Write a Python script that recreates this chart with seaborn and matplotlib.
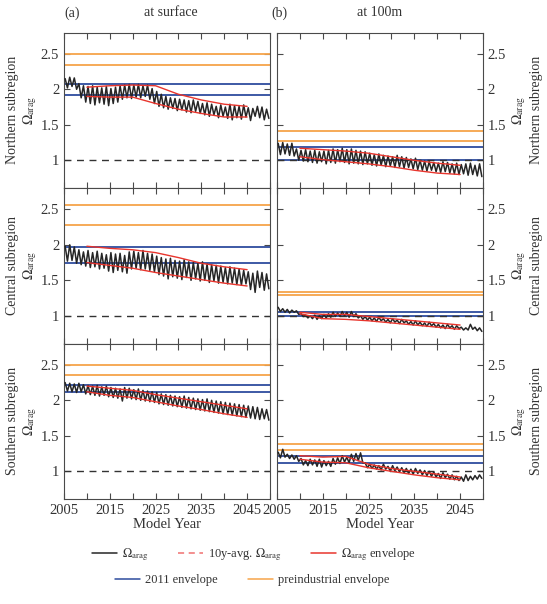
import numpy as np
import pandas as pd
import matplotlib
matplotlib.use("Agg")
import matplotlib.pyplot as plt
from matplotlib.lines import Line2D
from matplotlib.ticker import MultipleLocator, FixedLocator
import seaborn as sns

sns.set_style("ticks")
plt.rcParams["font.family"] = ["Liberation Serif", "DejaVu Serif"]
plt.rcParams["mathtext.fontset"] = "stix"

# ── Data ─────────────────────────────────────────────────────
years = np.arange(2005, 2050)
env_years = [2010, 2015, 2020, 2025, 2030, 2035, 2040, 2045]
regions = ["Northern", "Central", "Southern"]
depths = ["at surface", "at 100m"]

# annual seasonal highs / lows of Omega_arag
n_surf_hi = [2.15, 2.17, 2.16, 2.08, 2.05, 2.04, 2.05, 2.03, 2.02, 2.04,
             2.01, 2.03, 2.05, 2.06, 2.07, 2.06, 2.07, 2.05, 2.06, 2.01,
             1.97, 1.93, 1.90, 1.88, 1.87, 1.86, 1.85, 1.84, 1.85, 1.83,
             1.80, 1.81, 1.79, 1.76, 1.78, 1.75, 1.79, 1.77, 1.76, 1.78,
             1.74, 1.73, 1.76, 1.75, 1.72]
n_surf_lo = [2.02, 2.04, 2.00, 1.88, 1.82, 1.80, 1.78, 1.81, 1.79, 1.77,
             1.80, 1.82, 1.86, 1.88, 1.87, 1.89, 1.88, 1.90, 1.86, 1.80,
             1.76, 1.74, 1.72, 1.73, 1.70, 1.71, 1.68, 1.67, 1.69, 1.66,
             1.64, 1.62, 1.64, 1.60, 1.62, 1.59, 1.57, 1.60, 1.58, 1.61,
             1.56, 1.62, 1.60, 1.57, 1.59]
n_100_hi = [1.24, 1.25, 1.23, 1.24, 1.16, 1.14, 1.15, 1.13, 1.14, 1.12,
            1.13, 1.14, 1.16, 1.15, 1.17, 1.15, 1.16, 1.14, 1.13, 1.12,
            1.10, 1.08, 1.09, 1.07, 1.06, 1.05, 1.07, 1.05, 1.04, 1.02,
            1.03, 1.00, 0.99, 0.98, 0.97, 0.96, 0.98, 0.97, 0.95, 0.96,
            0.94, 0.95, 0.96, 0.93, 0.95]
n_100_lo = [1.08, 1.09, 1.07, 1.06, 1.00, 0.99, 0.98, 0.97, 0.96, 0.98,
            0.95, 0.97, 0.96, 0.98, 0.97, 0.95, 0.96, 0.95, 0.94, 0.95,
            0.93, 0.92, 0.93, 0.91, 0.92, 0.90, 0.91, 0.89, 0.90, 0.88,
            0.87, 0.86, 0.85, 0.86, 0.84, 0.83, 0.84, 0.82, 0.81, 0.80,
            0.81, 0.79, 0.80, 0.78, 0.77]
c_surf_hi = [1.98, 2.00, 1.97, 1.93, 1.90, 1.92, 1.89, 1.91, 1.88, 1.86,
             1.89, 1.87, 1.88, 1.85, 1.90, 1.91, 1.89, 1.92, 1.88, 1.87,
             1.84, 1.82, 1.80, 1.81, 1.78, 1.77, 1.79, 1.76, 1.75, 1.74,
             1.76, 1.73, 1.72, 1.71, 1.70, 1.68, 1.69, 1.67, 1.66, 1.64,
             1.62, 1.60, 1.63, 1.61, 1.59]
c_surf_lo = [1.77, 1.78, 1.74, 1.72, 1.70, 1.68, 1.69, 1.66, 1.67, 1.63,
             1.61, 1.64, 1.62, 1.60, 1.66, 1.67, 1.65, 1.66, 1.64, 1.62,
             1.58, 1.56, 1.52, 1.55, 1.53, 1.51, 1.54, 1.50, 1.52, 1.49,
             1.50, 1.47, 1.49, 1.46, 1.47, 1.45, 1.46, 1.44, 1.43, 1.45,
             1.37, 1.33, 1.40, 1.36, 1.38]
c_100_hi = [1.12, 1.10, 1.09, 1.08, 1.07, 1.03, 1.01, 1.00, 1.01, 1.00,
            1.02, 1.03, 1.05, 1.04, 1.06, 1.05, 1.06, 1.03, 1.00, 0.99,
            0.98, 0.97, 0.98, 0.96, 0.95, 0.96, 0.94, 0.95, 0.93, 0.92,
            0.93, 0.91, 0.90, 0.91, 0.89, 0.88, 0.87, 0.88, 0.86, 0.86,
            0.84, 0.83, 0.88, 0.84, 0.83]
c_100_lo = [1.06, 1.05, 1.04, 1.05, 1.02, 0.99, 0.97, 0.96, 0.95, 0.96,
            0.97, 0.98, 0.99, 0.99, 1.00, 0.98, 0.99, 0.97, 0.95, 0.94,
            0.93, 0.92, 0.93, 0.91, 0.90, 0.91, 0.89, 0.90, 0.88, 0.87,
            0.87, 0.86, 0.85, 0.86, 0.84, 0.83, 0.82, 0.83, 0.81, 0.82,
            0.80, 0.80, 0.81, 0.79, 0.78]
s_surf_hi = [2.25, 2.24, 2.23, 2.24, 2.22, 2.21, 2.20, 2.21, 2.19, 2.20,
             2.18, 2.17, 2.16, 2.18, 2.17, 2.15, 2.16, 2.14, 2.13, 2.12,
             2.11, 2.09, 2.08, 2.07, 2.06, 2.05, 2.06, 2.04, 2.03, 2.02,
             2.01, 2.02, 2.00, 1.99, 1.98, 1.97, 1.96, 1.95, 1.94, 1.93,
             1.92, 1.91, 1.90, 1.88, 1.87]
s_surf_lo = [2.13, 2.12, 2.11, 2.12, 2.09, 2.08, 2.07, 2.06, 2.07, 2.05,
             2.04, 2.03, 1.99, 2.03, 2.02, 2.01, 2.00, 1.99, 1.98, 1.97,
             1.95, 1.94, 1.93, 1.92, 1.91, 1.90, 1.89, 1.88, 1.87, 1.86,
             1.85, 1.84, 1.83, 1.82, 1.81, 1.80, 1.79, 1.78, 1.77, 1.76,
             1.75, 1.74, 1.73, 1.74, 1.72]
s_100_hi = [1.27, 1.31, 1.24, 1.23, 1.22, 1.18, 1.15, 1.17, 1.16, 1.17,
            1.15, 1.14, 1.18, 1.19, 1.22, 1.20, 1.24, 1.25, 1.26, 1.12,
            1.10, 1.09, 1.08, 1.10, 1.07, 1.08, 1.06, 1.05, 1.04, 1.03,
            1.04, 1.02, 1.01, 1.00, 0.99, 0.97, 0.98, 0.96, 0.95, 0.93,
            0.92, 0.95, 0.93, 0.94, 0.95]
s_100_lo = [1.19, 1.20, 1.18, 1.17, 1.14, 1.09, 1.08, 1.09, 1.07, 1.06,
            1.08, 1.07, 1.10, 1.11, 1.13, 1.12, 1.14, 1.15, 1.12, 1.05,
            1.04, 1.03, 1.02, 1.03, 1.00, 1.01, 0.99, 0.98, 0.97, 0.96,
            0.97, 0.95, 0.94, 0.93, 0.92, 0.90, 0.91, 0.89, 0.88, 0.87,
            0.86, 0.87, 0.88, 0.89, 0.90]

# envelope of the 10y windows (upper / lower)
n_surf_env_up = [2.03, 2.05, 2.06, 2.05, 1.93, 1.85, 1.79, 1.76]
n_surf_env_lo = [1.90, 1.89, 1.89, 1.80, 1.72, 1.66, 1.61, 1.61]
n_100_env_up = [1.17, 1.15, 1.13, 1.10, 1.05, 1.00, 0.96, 0.93]
n_100_env_lo = [1.05, 1.01, 0.98, 0.95, 0.91, 0.86, 0.82, 0.80]
c_surf_env_up = [1.98, 1.95, 1.93, 1.89, 1.82, 1.74, 1.69, 1.65]
c_surf_env_lo = [1.75, 1.71, 1.67, 1.61, 1.56, 1.51, 1.46, 1.42]
c_100_env_up = [1.05, 1.02, 1.02, 0.99, 0.96, 0.93, 0.90, 0.87]
c_100_env_lo = [1.03, 0.96, 0.95, 0.93, 0.90, 0.87, 0.84, 0.81]
s_surf_env_up = [2.20, 2.17, 2.14, 2.08, 2.03, 1.98, 1.93, 1.88]
s_surf_env_lo = [2.12, 2.07, 2.04, 1.98, 1.92, 1.87, 1.81, 1.76]
s_100_env_up = [1.22, 1.20, 1.21, 1.10, 1.04, 1.00, 0.96, 0.92]
s_100_env_lo = [1.17, 1.13, 1.12, 1.05, 1.00, 0.95, 0.91, 0.88]

# 2011 and preindustrial envelopes (horizontal lines)
n_surf_2011 = [2.075, 1.915]
n_surf_pre = [2.50, 2.34]
n_100_2011 = [1.19, 1.005]
n_100_pre = [1.41, 1.27]
c_surf_2011 = [1.975, 1.745]
c_surf_pre = [2.555, 2.28]
c_100_2011 = [1.06, 1.0]
c_100_pre = [1.34, 1.29]
s_surf_2011 = [2.22, 2.11]
s_surf_pre = [2.50, 2.36]
s_100_2011 = [1.21, 1.11]
s_100_pre = [1.38, 1.30]

panels = [
    [(n_surf_hi, n_surf_lo, n_surf_env_up, n_surf_env_lo, n_surf_2011, n_surf_pre),
     (n_100_hi, n_100_lo, n_100_env_up, n_100_env_lo, n_100_2011, n_100_pre)],
    [(c_surf_hi, c_surf_lo, c_surf_env_up, c_surf_env_lo, c_surf_2011, c_surf_pre),
     (c_100_hi, c_100_lo, c_100_env_up, c_100_env_lo, c_100_2011, c_100_pre)],
    [(s_surf_hi, s_surf_lo, s_surf_env_up, s_surf_env_lo, s_surf_2011, s_surf_pre),
     (s_100_hi, s_100_lo, s_100_env_up, s_100_env_lo, s_100_2011, s_100_pre)],
]

C_SER = "#262626"
C_ENV = "#e8352d"
C_2011 = "#2e4c9e"
C_PRE = "#f6a44a"
C_AX = "#4a4a4a"
C_TXT = "#333333"
FS = 10.5

fig = plt.figure(figsize=(5.47, 6.04), dpi=100)
lefts = [64 / 547, 277 / 547]
width = 206 / 547
bottoms = [1 - 188 / 604, 1 - 343.5 / 604, 1 - 499 / 604]
height = 155.5 / 604

for r in range(3):
    for c in range(2):
        hi, lo, eu, el, e2011, epre = panels[r][c]
        ax = fig.add_axes([lefts[c], bottoms[r], width, height])

        # seasonal cycle: high then low within each year
        df = pd.DataFrame({
            "year": np.concatenate([years + 0.25, years + 0.75]),
            "omega": np.concatenate([hi, lo]),
        }).sort_values("year")

        for v in epre:
            ax.axhline(v, color=C_PRE, lw=1.3, zorder=1)
        for v in e2011:
            ax.axhline(v, color=C_2011, lw=1.3, zorder=1)
        ax.axhline(1.0, color=C_TXT, lw=1.0, ls=(0, (5, 4)), zorder=1)

        sns.lineplot(data=df, x="year", y="omega", color=C_SER, lw=1.1,
                     estimator=None, ax=ax, zorder=3)
        sns.lineplot(x=env_years, y=eu, color=C_ENV, lw=1.0, ax=ax, zorder=4)
        sns.lineplot(x=env_years, y=el, color=C_ENV, lw=1.0, ax=ax, zorder=4)

        ax.set_xlim(2005, 2050)
        ax.set_ylim(0.61, 2.8)
        ax.set_yticks([1, 1.5, 2, 2.5])
        ax.set_yticklabels(["1", "1.5", "2", "2.5"])
        ax.xaxis.set_major_locator(FixedLocator([2005, 2015, 2025, 2035, 2045]))
        ax.xaxis.set_minor_locator(MultipleLocator(5))
        ax.tick_params(which="both", direction="in", top=True, bottom=True,
                       left=True, right=True, length=4, width=0.8,
                       color=C_AX, labelsize=FS, labelcolor=C_TXT)
        for s in ax.spines.values():
            s.set_color(C_AX)
            s.set_linewidth(0.8)

        lab_line = r"$\Omega_{\mathrm{arag}}$"
        if c == 0:
            ax.tick_params(labelleft=True, labelright=False)
            ax.set_ylabel(f"{regions[r]} subregion\n{lab_line}", fontsize=10,
                          color=C_TXT, labelpad=1)
        else:
            ax.tick_params(labelleft=False, labelright=True)
            ax.yaxis.set_label_position("right")
            ax.set_ylabel(f"{lab_line}\n{regions[r]} subregion", fontsize=10,
                          color=C_TXT, labelpad=3)

        if r < 2:
            ax.tick_params(labelbottom=False)
            ax.set_xlabel("")
        else:
            ax.set_xlabel("Model Year", fontsize=10.5, color=C_TXT, labelpad=1)

fig.text(64 / 547, 1 - 13 / 604, "(a)", fontsize=10, color=C_TXT,
         ha="left", va="center")
fig.text(171 / 547, 1 - 13 / 604, depths[0], fontsize=10, color=C_TXT,
         ha="center", va="center")
fig.text(271 / 547, 1 - 13 / 604, "(b)", fontsize=10, color=C_TXT,
         ha="left", va="center")
fig.text(380 / 547, 1 - 13 / 604, depths[1], fontsize=10, color=C_TXT,
         ha="center", va="center")

# legend: two centred rows
h_ser = Line2D([], [], color=C_SER, lw=1.1)
h_avg = Line2D([], [], color="#f07070", lw=1.1, ls=(0, (4, 3)))
h_env = Line2D([], [], color=C_ENV, lw=1.1)
h_2011 = Line2D([], [], color=C_2011, lw=1.1)
h_pre = Line2D([], [], color=C_PRE, lw=1.1)
leg_kw = dict(frameon=False, fontsize=9, handlelength=2.0, handletextpad=0.4,
              columnspacing=2.4, labelcolor=C_TXT)
fig.legend([h_ser, h_avg, h_env],
           [r"$\Omega_{\mathrm{arag}}$", r"10y-avg. $\Omega_{\mathrm{arag}}$",
            r"$\Omega_{\mathrm{arag}}$ envelope"],
           loc="center", bbox_to_anchor=(254 / 547, 1 - 555 / 604), ncol=3, **leg_kw)
fig.legend([h_2011, h_pre], ["2011 envelope", "preindustrial envelope"],
           loc="center", bbox_to_anchor=(252 / 547, 1 - 580 / 604), ncol=2, **leg_kw)

fig.savefig("out.png", dpi=100)
